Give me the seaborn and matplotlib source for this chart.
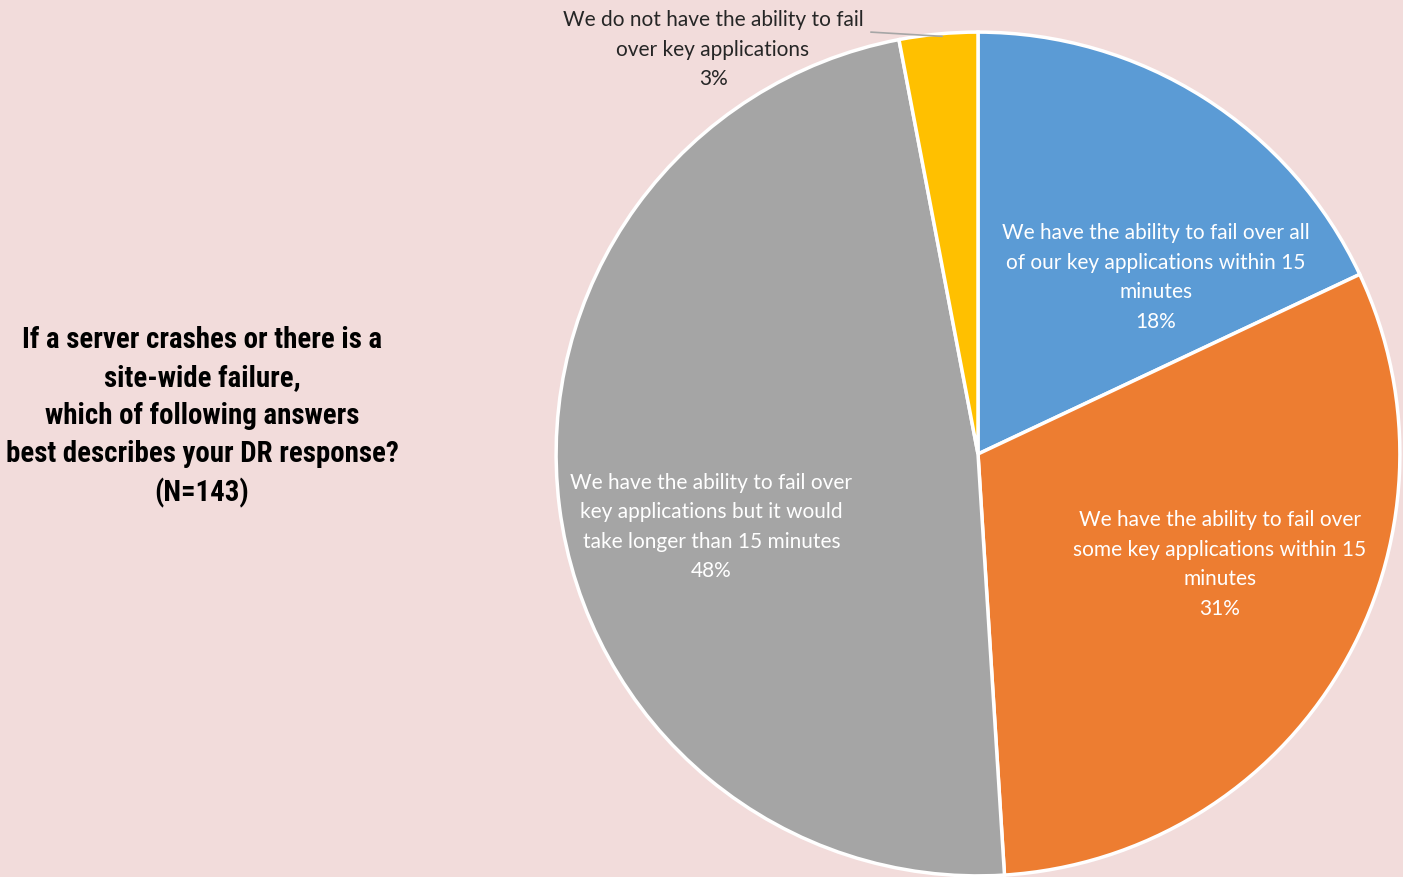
import matplotlib
matplotlib.use("Agg")
import matplotlib.pyplot as plt
import seaborn as sns
from matplotlib import font_manager

# Survey answers and their shares (percent)
categories = [
    "We have the ability to fail over all\nof our key applications within 15\nminutes",
    "We have the ability to fail over\nsome key applications within 15\nminutes",
    "We have the ability to fail over\nkey applications but it would\ntake longer than 15 minutes",
    "We do not have the ability to fail\nover key applications",
]
shares = [18, 31, 48, 3]
colors = ["#5B9BD5", "#ED7D31", "#A5A5A5", "#FFC000"]
title_text = ("If a server crashes or there is a\nsite-wide failure,\n"
              "which of following answers\nbest describes your DR response?\n(N=143)")

sns.set_theme(style="white")
bg = "#F2DCDB"

available = {f.name for f in font_manager.fontManager.ttflist}
title_font = "Roboto"
for cand in ["Roboto Condensed", "Open Sans Condensed", "Liberation Sans Narrow",
             "DejaVu Sans Condensed", "Roboto"]:
    if cand in available:
        title_font = cand
        break
label_font = "Lato"
plt.rcParams["font.family"] = [label_font, "DejaVu Sans"]

W, H = 1403, 877
fig = plt.figure(figsize=(W / 100, H / 100), dpi=100, facecolor=bg)

cx, cy, r = 978, 454, 424
ax = fig.add_axes([(cx - r) / W, (H - cy - r) / H, 2 * r / W, 2 * r / H])
ax.set_facecolor("none")

wedges, _ = ax.pie(
    shares, colors=colors, startangle=90, counterclock=False, radius=1.0,
    wedgeprops=dict(edgecolor="white", linewidth=2.5),
)
ax.set_xlim(-1.005, 1.005)
ax.set_ylim(-1.005, 1.005)
ax.set_aspect("equal")
ax.axis("off")

# label anchor points inside the pie (data units)
label_pos = [(0.422, 0.418), (0.573, -0.262), (-0.632, -0.173), (-0.628, 0.958)]
text_colors = ["white", "white", "white", "#262626"]
for cat, val, pos, tc in zip(categories, shares, label_pos, text_colors):
    ax.text(pos[0], pos[1], f"{cat}\n{val}%", ha="center", va="center",
            multialignment="center", fontsize=15, color=tc, linespacing=1.6,
            fontweight="normal")

# leader line for the small slice
ax.plot([-0.254, -0.085], [1.0, 0.99], color="#A6A6A6", lw=1.2, clip_on=False)

title = fig.text(202 / W, 1 - 417 / H, title_text, ha="center", va="center",
                 multialignment="center", fontsize=22, fontweight="bold",
                 family=[title_font, "DejaVu Sans"], linespacing=1.25,
                 color="black")

# fit the title block to its column width
renderer = fig.canvas.get_renderer()
bb = title.get_window_extent(renderer)
target_w = 392
if bb.width > target_w:
    title.set_fontsize(22 * target_w / bb.width)
    title.set_linespacing(1.45)

fig.savefig("out.png", dpi=100, facecolor=bg)
